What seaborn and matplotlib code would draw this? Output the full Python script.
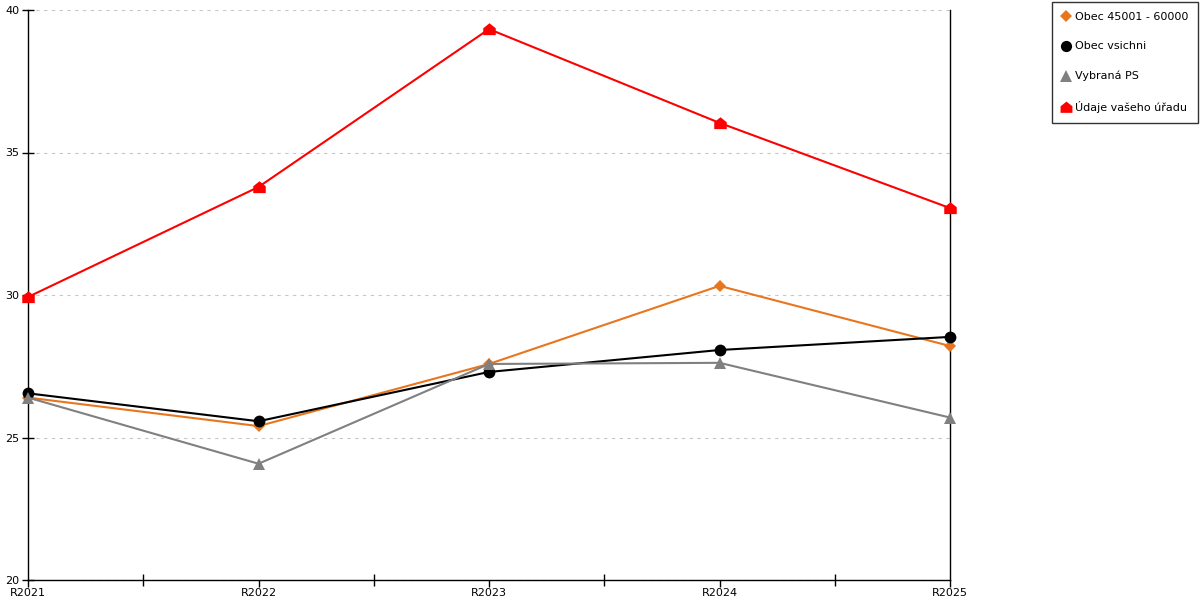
import matplotlib
matplotlib.use("Agg")
import matplotlib.pyplot as plt
from matplotlib.lines import Line2D
from matplotlib.path import Path
from matplotlib.ticker import MultipleLocator, FixedLocator
import seaborn as sns
import pandas as pd

years = ["R2021", "R2022", "R2023", "R2024", "R2025"]
obec_45001_60000 = [26.40, 25.40, 27.58, 30.32, 28.21]
obec_vsichni = [26.55, 25.57, 27.30, 28.07, 28.53]
vybrana_ps = [26.40, 24.08, 27.58, 27.62, 25.70]
udaje_uradu = [29.93, 33.79, 39.33, 36.04, 33.05]

series_names = ["Obec 45001 - 60000", "Obec vsichni", "Vybraná PS", "Údaje vašeho úřadu"]
series_values = [obec_45001_60000, obec_vsichni, vybrana_ps, udaje_uradu]

house = Path([(-1, -0.9), (1, -0.9), (1, 0.2), (0, 1), (-1, 0.2), (-1, -0.9)],
             [Path.MOVETO, Path.LINETO, Path.LINETO, Path.LINETO, Path.LINETO, Path.CLOSEPOLY])
colors = ["#E8761E", "#000000", "#808080", "#FF0000"]
markers = ["D", "o", "^", house]
msizes = [6.5, 8.5, 8.5, 9]

sns.set_theme(style="white")
plt.rcParams['font.family'] = ['DejaVu Sans']
plt.rcParams['text.color'] = 'black'
plt.rcParams['xtick.color'] = 'black'
plt.rcParams['ytick.color'] = 'black'

fig = plt.figure(figsize=(12, 6), dpi=100)
ax = fig.add_axes([28/1200, 20/600, 922/1200, 570/600])

pos = list(range(len(years)))
for name, vals, c, m, ms in zip(series_names, series_values, colors, markers, msizes):
    df = pd.DataFrame({"x": pos, "y": vals})
    sns.lineplot(data=df, x="x", y="y", ax=ax, color=c, marker=m, markersize=ms,
                 markeredgewidth=0, linewidth=1.5, label=name, legend=False, clip_on=False, zorder=3)

ax.set_xlim(0, len(years) - 1)
ax.set_ylim(20, 40)
ax.set_xticks(pos)
ax.set_xticklabels(years, fontsize=8)
ax.xaxis.set_minor_locator(FixedLocator([p + 0.5 for p in pos[:-1]]))
ax.yaxis.set_major_locator(MultipleLocator(5))
ax.tick_params(axis="y", labelsize=8, direction="inout", length=8, width=1, left=True, pad=2,
               colors="black")
ax.tick_params(axis="x", which="major", direction="out", length=5, width=1, bottom=True, pad=1,
               colors="black")
ax.tick_params(axis="x", which="minor", direction="inout", length=8, width=1, bottom=True,
               colors="black")
ax.set_xlabel("")
ax.set_ylabel("")

ax.yaxis.grid(True, color="#c8c8c8", linestyle=(0, (3, 4)), linewidth=0.8)
ax.xaxis.grid(False)
ax.set_axisbelow(True)

for s in ["left", "bottom", "right"]:
    ax.spines[s].set_visible(True)
    ax.spines[s].set_color("black")
    ax.spines[s].set_linewidth(1)
ax.spines["top"].set_visible(False)

handles = [Line2D([], [], color=c, marker=m, markersize=ms * 0.95, markeredgewidth=0, linestyle="none")
           for c, m, ms in zip(colors, markers, msizes)]
leg = fig.legend(handles, series_names, loc="upper left", bbox_to_anchor=(1052/1200, 1 - 2/600),
                 fontsize=8, frameon=True, fancybox=False, edgecolor="black", labelspacing=1.75,
                 handlelength=0.8, handletextpad=0.35, borderpad=0.9, borderaxespad=0)
leg.get_frame().set_linewidth(1)

fig.savefig("out.png", dpi=100, facecolor="white")
